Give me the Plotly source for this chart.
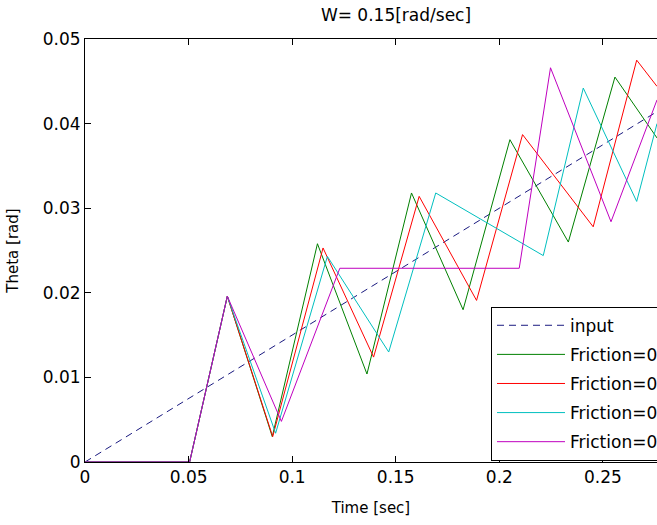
import plotly.graph_objects as go

# ---- data ----
input_t = [0.0, 0.28]
input_theta = [0.0, 0.042]

green_t = [0, 0.0505, 0.0687, 0.0904, 0.1122, 0.1361, 0.1576, 0.1825, 0.2051, 0.2333, 0.2558, 0.2761]
green_theta = [0, 0, 0.0196, 0.0030, 0.0258, 0.0104, 0.0318, 0.0180, 0.0381, 0.0260, 0.0455, 0.0383]

red_t = [0, 0.0505, 0.0687, 0.0906, 0.1149, 0.1393, 0.1613, 0.1890, 0.2112, 0.2453, 0.2663, 0.2761]
red_theta = [0, 0, 0.0196, 0.0030, 0.0253, 0.0124, 0.0314, 0.0191, 0.0387, 0.0278, 0.0475, 0.0444]

cyan_t = [0, 0.0505, 0.0687, 0.0920, 0.1170, 0.1466, 0.1693, 0.2212, 0.2405, 0.2663, 0.2761]
cyan_theta = [0, 0, 0.0196, 0.0034, 0.0243, 0.0130, 0.0318, 0.0244, 0.0442, 0.0308, 0.0400]

magenta_t = [0, 0.0505, 0.0687, 0.0948, 0.1230, 0.2096, 0.2247, 0.2539, 0.2761]
magenta_theta = [0, 0, 0.0196, 0.0048, 0.0229, 0.0229, 0.0466, 0.0284, 0.0428]

series_names = ["input", "Friction=0.01", "Friction=0.02", "Friction=0.03", "Friction=0.04"]
x_ticks = [0, 0.05, 0.1, 0.15, 0.2, 0.25]
x_tick_labels = ["0", "0.05", "0.1", "0.15", "0.2", "0.25"]
y_ticks = [0, 0.01, 0.02, 0.03, 0.04, 0.05]
y_tick_labels = ["0", "0.01", "0.02", "0.03", "0.04", "0.05"]

FONT = "DejaVu Sans"
FS = 17

fig = go.Figure()
fig.add_trace(go.Scatter(x=input_t, y=input_theta, mode="lines", name=series_names[0],
                         legendgroup="a",
                         line=dict(color="#1a1a80", width=1, dash="7px,5px")))
fig.add_trace(go.Scatter(x=green_t, y=green_theta, mode="lines", name=series_names[1],
                         legendgroup="b", line=dict(color="#008000", width=1)))
fig.add_trace(go.Scatter(x=red_t, y=red_theta, mode="lines", name=series_names[2],
                         legendgroup="c", line=dict(color="#ff0000", width=1)))
fig.add_trace(go.Scatter(x=cyan_t, y=cyan_theta, mode="lines", name=series_names[3],
                         legendgroup="d", line=dict(color="#00bfbf", width=1)))
fig.add_trace(go.Scatter(x=magenta_t, y=magenta_theta, mode="lines", name=series_names[4],
                         legendgroup="e", line=dict(color="#bf00bf", width=1)))

fig.update_layout(
    width=657, height=525,
    margin=dict(l=85, r=0, t=39, b=63, autoexpand=False),
    paper_bgcolor="white", plot_bgcolor="white",
    font=dict(family=FONT, size=FS, color="black"),
    title=dict(text="W= 0.15[rad/sec]", x=396/657, xanchor="center", y=1 - 15/525,
               yanchor="middle", font=dict(family=FONT, size=FS, color="black")),
    showlegend=True,
    legend=dict(x=(491 - 85) / 572, y=0.003, xanchor="left", yanchor="bottom",
                bgcolor="white", bordercolor="black", borderwidth=1,
                traceorder="grouped", tracegroupgap=4, itemwidth=68,
                font=dict(family=FONT, size=FS, color="black")),
    xaxis=dict(range=[0, 0.2761], tickvals=x_ticks, ticktext=x_tick_labels,
               ticks="inside", ticklen=6, tickcolor="black", showgrid=False,
               zeroline=False, showline=True, linecolor="black", linewidth=1,
               title=dict(text="Time [sec]", standoff=16, font=dict(size=15)),
               tickfont=dict(size=FS)),
    xaxis2=dict(range=[0, 0.2761], overlaying="x", side="top", matches="x",
                tickvals=x_ticks, showticklabels=False, ticks="inside", ticklen=6,
                tickcolor="black", showgrid=False, zeroline=False, showline=True,
                linecolor="black", linewidth=1),
    yaxis=dict(range=[0, 0.05], tickvals=y_ticks, ticktext=y_tick_labels,
               ticks="inside", ticklen=6, tickcolor="black", showgrid=False,
               zeroline=False, showline=True, linecolor="black", linewidth=1,
               title=dict(text="Theta [rad]", standoff=20, font=dict(size=15)),
               tickfont=dict(size=FS)),
)
# dummy trace to activate top axis
fig.add_trace(go.Scatter(x=[0], y=[0], xaxis="x2", mode="markers",
                         marker=dict(opacity=0), showlegend=False, hoverinfo="skip"))

fig.write_html("out.html", config={"displayModeBar": False},
               post_script="document.body.style.margin='0';document.body.style.overflow='hidden';")
